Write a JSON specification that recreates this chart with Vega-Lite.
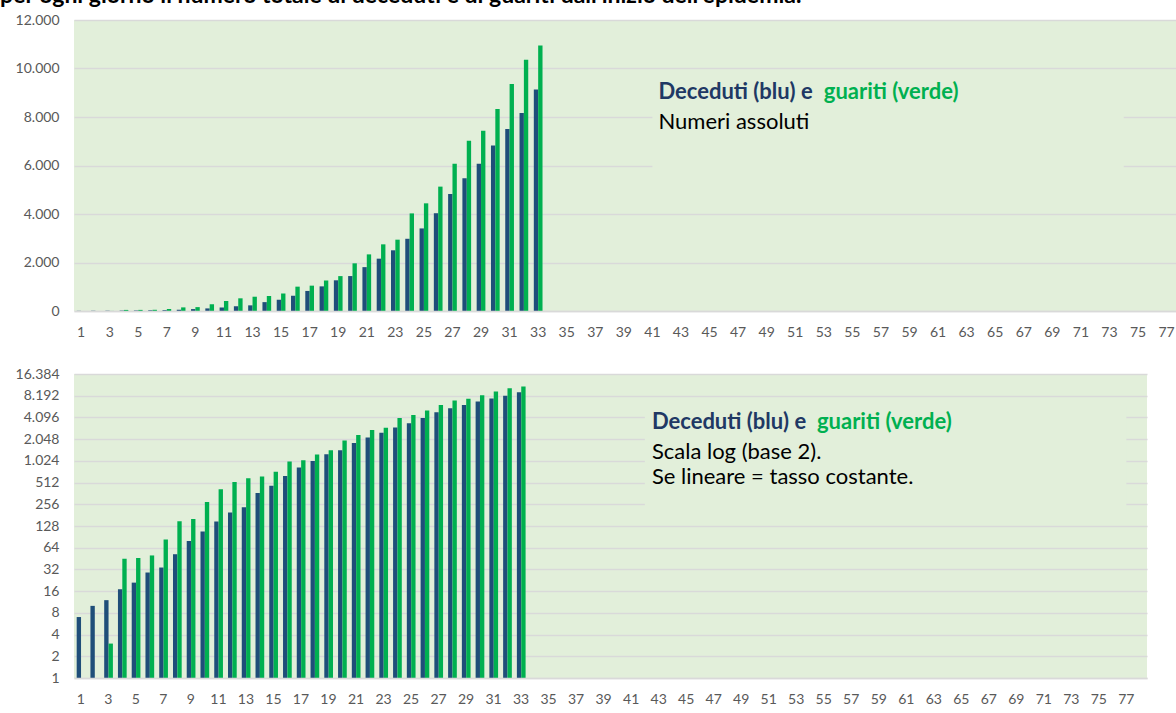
{
  "$schema": "https://vega.github.io/schema/vega-lite/v6.json",
  "padding": {"left": 0, "top": -15, "right": 0, "bottom": 0},
  "background": "white",
  "spacing": 28,
  "title": {
    "text": "per ogni giorno il numero totale di deceduti e di guariti dall'inizio dell'epidemia.",
    "anchor": "start",
    "font": "Lato",
    "fontSize": 23,
    "fontWeight": "bold",
    "color": "#000000",
    "offset": 5,
    "dx": -15
  },
  "config": {
    "locale": {"number": {"decimal": ",", "thousands": ".", "grouping": [3], "currency": ["€", ""]}},
    "view": {"fill": "#E2EFDA", "stroke": null},
    "font": "Lato",
    "axis": {"labelFont": "Lato", "labelFontSize": 14, "labelColor": "#595959", "title": null, "ticks": false}
  },
  "datasets": {
    "cases": [
      {"day": 1, "serie": "Deceduti", "value": 7}, {"day": 1, "serie": "Guariti", "value": 1},
      {"day": 2, "serie": "Deceduti", "value": 10}, {"day": 2, "serie": "Guariti", "value": 1},
      {"day": 3, "serie": "Deceduti", "value": 12}, {"day": 3, "serie": "Guariti", "value": 3},
      {"day": 4, "serie": "Deceduti", "value": 17}, {"day": 4, "serie": "Guariti", "value": 45},
      {"day": 5, "serie": "Deceduti", "value": 21}, {"day": 5, "serie": "Guariti", "value": 46},
      {"day": 6, "serie": "Deceduti", "value": 29}, {"day": 6, "serie": "Guariti", "value": 50},
      {"day": 7, "serie": "Deceduti", "value": 34}, {"day": 7, "serie": "Guariti", "value": 83},
      {"day": 8, "serie": "Deceduti", "value": 52}, {"day": 8, "serie": "Guariti", "value": 149},
      {"day": 9, "serie": "Deceduti", "value": 79}, {"day": 9, "serie": "Guariti", "value": 160},
      {"day": 10, "serie": "Deceduti", "value": 107}, {"day": 10, "serie": "Guariti", "value": 276},
      {"day": 11, "serie": "Deceduti", "value": 148}, {"day": 11, "serie": "Guariti", "value": 414},
      {"day": 12, "serie": "Deceduti", "value": 197}, {"day": 12, "serie": "Guariti", "value": 523},
      {"day": 13, "serie": "Deceduti", "value": 233}, {"day": 13, "serie": "Guariti", "value": 589},
      {"day": 14, "serie": "Deceduti", "value": 366}, {"day": 14, "serie": "Guariti", "value": 622},
      {"day": 15, "serie": "Deceduti", "value": 463}, {"day": 15, "serie": "Guariti", "value": 724},
      {"day": 16, "serie": "Deceduti", "value": 631}, {"day": 16, "serie": "Guariti", "value": 1004},
      {"day": 17, "serie": "Deceduti", "value": 827}, {"day": 17, "serie": "Guariti", "value": 1045},
      {"day": 18, "serie": "Deceduti", "value": 1016}, {"day": 18, "serie": "Guariti", "value": 1258},
      {"day": 19, "serie": "Deceduti", "value": 1266}, {"day": 19, "serie": "Guariti", "value": 1439},
      {"day": 20, "serie": "Deceduti", "value": 1441}, {"day": 20, "serie": "Guariti", "value": 1966},
      {"day": 21, "serie": "Deceduti", "value": 1809}, {"day": 21, "serie": "Guariti", "value": 2335},
      {"day": 22, "serie": "Deceduti", "value": 2158}, {"day": 22, "serie": "Guariti", "value": 2749},
      {"day": 23, "serie": "Deceduti", "value": 2503}, {"day": 23, "serie": "Guariti", "value": 2941},
      {"day": 24, "serie": "Deceduti", "value": 2978}, {"day": 24, "serie": "Guariti", "value": 4025},
      {"day": 25, "serie": "Deceduti", "value": 3405}, {"day": 25, "serie": "Guariti", "value": 4440},
      {"day": 26, "serie": "Deceduti", "value": 4032}, {"day": 26, "serie": "Guariti", "value": 5129},
      {"day": 27, "serie": "Deceduti", "value": 4825}, {"day": 27, "serie": "Guariti", "value": 6072},
      {"day": 28, "serie": "Deceduti", "value": 5476}, {"day": 28, "serie": "Guariti", "value": 7024},
      {"day": 29, "serie": "Deceduti", "value": 6077}, {"day": 29, "serie": "Guariti", "value": 7432},
      {"day": 30, "serie": "Deceduti", "value": 6820}, {"day": 30, "serie": "Guariti", "value": 8326},
      {"day": 31, "serie": "Deceduti", "value": 7503}, {"day": 31, "serie": "Guariti", "value": 9362},
      {"day": 32, "serie": "Deceduti", "value": 8165}, {"day": 32, "serie": "Guariti", "value": 10361},
      {"day": 33, "serie": "Deceduti", "value": 9134}, {"day": 33, "serie": "Guariti", "value": 10950}
    ]
  },
  "vconcat": [
    {
      "width": 1114,
      "height": 291,
      "encoding": {
        "x": {
          "field": "day", "type": "ordinal",
          "scale": {"domain": [1,2,3,4,5,6,7,8,9,10,11,12,13,14,15,16,17,18,19,20,21,22,23,24,25,26,27,28,29,30,31,32,33,34,35,36,37,38,39,40,41,42,43,44,45,46,47,48,49,50,51,52,53,54,55,56,57,58,59,60,61,62,63,64,65,66,67,68,69,70,71,72,73,74,75,76,77,78], "paddingInner": 0.39, "paddingOuter": 0.195},
          "axis": {"values": [1,3,5,7,9,11,13,15,17,19,21,23,25,27,29,31,33,35,37,39,41,43,45,47,49,51,53,55,57,59,61,63,65,67,69,71,73,75,77], "labelAngle": 0, "labelPadding": 14, "domain": true, "domainColor": "#D9D9D9", "domainWidth": 1.5, "grid": false}
        },
        "y": {
          "field": "value", "type": "quantitative",
          "scale": {"domain": [0, 12000], "nice": false},
          "axis": {"values": [0,2000,4000,6000,8000,10000,12000], "format": ",d", "domain": false, "grid": true, "gridColor": "#D9D9D9", "gridWidth": 1.5, "labelPadding": 15}
        }
      },
      "layer": [
        {
          "data": {"values": [{"day": 41, "day2": 74, "value": 4700, "value2": 9500}]},
          "mark": {"type": "rect", "fill": "#E2EFDA"},
          "encoding": {"x2": {"field": "day2"}, "y2": {"field": "value2"}}
        },
        {
          "data": {"name": "cases"},
          "mark": {"type": "bar"},
          "encoding": {
            "xOffset": {"field": "serie", "type": "nominal", "scale": {"domain": ["Deceduti", "Guariti"], "paddingInner": 0}},
            "color": {"field": "serie", "type": "nominal", "scale": {"domain": ["Deceduti", "Guariti"], "range": ["#1F4E79", "#00B050"]}, "legend": null}
          }
        },
        {
          "data": {"values": [{"day": 41, "value": 9031, "label": "Deceduti (blu) e"}]},
          "mark": {"type": "text", "align": "left", "baseline": "middle", "dx": 6, "fontSize": 22, "fontWeight": "bold", "color": "#203864"},
          "encoding": {"text": {"field": "label"}}
        },
        {
          "data": {"values": [{"day": 53, "value": 9031, "label": "guariti (verde)"}]},
          "mark": {"type": "text", "align": "left", "baseline": "middle", "dx": 0, "fontSize": 22, "fontWeight": "bold", "color": "#00B050"},
          "encoding": {"text": {"field": "label"}}
        },
        {
          "data": {"values": [{"day": 41, "value": 7794, "label": "Numeri assoluti"}]},
          "mark": {"type": "text", "align": "left", "baseline": "middle", "dx": 6, "fontSize": 22, "color": "#000000"},
          "encoding": {"text": {"field": "label"}}
        }
      ]
    },
    {
      "width": 1073,
      "height": 304,
      "encoding": {
        "x": {
          "field": "day", "type": "ordinal",
          "scale": {"domain": [1,2,3,4,5,6,7,8,9,10,11,12,13,14,15,16,17,18,19,20,21,22,23,24,25,26,27,28,29,30,31,32,33,34,35,36,37,38,39,40,41,42,43,44,45,46,47,48,49,50,51,52,53,54,55,56,57,58,59,60,61,62,63,64,65,66,67,68,69,70,71,72,73,74,75,76,77,78], "paddingInner": 0.39, "paddingOuter": 0.195},
          "axis": {"values": [1,3,5,7,9,11,13,15,17,19,21,23,25,27,29,31,33,35,37,39,41,43,45,47,49,51,53,55,57,59,61,63,65,67,69,71,73,75,77], "labelAngle": 0, "labelPadding": 14, "domain": true, "domainColor": "#D9D9D9", "domainWidth": 1.5, "grid": false}
        },
        "y": {
          "field": "value", "type": "quantitative",
          "scale": {"type": "log", "base": 2, "domain": [1, 16384], "nice": false},
          "axis": {"values": [1,2,4,8,16,32,64,128,256,512,1024,2048,4096,8192,16384], "format": ",d", "domain": false, "grid": true, "gridColor": "#D9D9D9", "gridWidth": 1.5, "labelPadding": 15}
        }
      },
      "layer": [
        {
          "data": {"values": [{"day": 42, "day2": 77, "value": 200, "value2": 6000}]},
          "mark": {"type": "rect", "fill": "#E2EFDA"},
          "encoding": {"x2": {"field": "day2"}, "y2": {"field": "value2"}}
        },
        {
          "data": {"name": "cases"},
          "mark": {"type": "bar"},
          "encoding": {
            "y2": {"datum": 1},
            "xOffset": {"field": "serie", "type": "nominal", "scale": {"domain": ["Deceduti", "Guariti"], "paddingInner": 0}},
            "color": {"field": "serie", "type": "nominal", "scale": {"domain": ["Deceduti", "Guariti"], "range": ["#1F4E79", "#00B050"]}, "legend": null}
          }
        },
        {
          "data": {"values": [{"day": 42, "value": 3541, "label": "Deceduti (blu) e"}]},
          "mark": {"type": "text", "align": "left", "baseline": "middle", "dx": 7, "fontSize": 22, "fontWeight": "bold", "color": "#203864"},
          "encoding": {"text": {"field": "label"}}
        },
        {
          "data": {"values": [{"day": 54, "value": 3541, "label": "guariti (verde)"}]},
          "mark": {"type": "text", "align": "left", "baseline": "middle", "dx": 7, "fontSize": 22, "fontWeight": "bold", "color": "#00B050"},
          "encoding": {"text": {"field": "label"}}
        },
        {
          "data": {"values": [{"day": 42, "value": 1364, "label": "Scala log (base 2)."}, {"day": 42, "value": 613, "label": "Se lineare = tasso costante."}]},
          "mark": {"type": "text", "align": "left", "baseline": "middle", "dx": 7, "fontSize": 22, "color": "#000000"},
          "encoding": {"text": {"field": "label"}}
        }
      ]
    }
  ]
}
